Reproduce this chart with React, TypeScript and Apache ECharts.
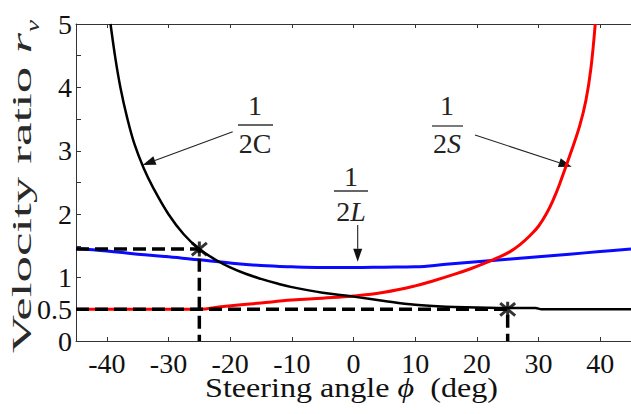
import React, { useEffect, useRef } from 'react';
import * as echarts from 'echarts';

// ---- data ----
const xMin = -45;
const xMax = 45;
const yTickLabels = [0, 0.5, 1, 2, 3, 4, 5];

const curveC: [number, number][] = [
  [-39.4, 5.0], [-38.6, 4.45], [-37.8, 4.0], [-36.7, 3.52], [-35.5, 3.1], [-34, 2.72],
  [-32.5, 2.42], [-30, 2.0], [-27.5, 1.68], [-25, 1.45], [-22.5, 1.29], [-20, 1.16],
  [-17.5, 1.06], [-15, 0.98], [-12.5, 0.91], [-10, 0.85], [-5, 0.76], [0, 0.7], [5, 0.63],
  [10, 0.57], [15, 0.54], [20, 0.53], [25, 0.52], [29.5, 0.52], [30.5, 0.5], [45, 0.5],
];
const curveS: [number, number][] = [
  [-45, 0.5], [-25, 0.5], [-21.5, 0.54], [-15, 0.6], [-10, 0.645], [-5, 0.675], [0, 0.71],
  [5, 0.77], [10, 0.87], [13, 0.95], [16.3, 1.05], [19, 1.14], [21.1, 1.22],
  [23.5, 1.32], [25.4, 1.41], [27, 1.52], [28.6, 1.66], [30, 1.81], [31.3, 2.01], [32.4, 2.23],
  [33.4, 2.47], [35.2, 2.96], [36.7, 3.4], [37.7, 3.8], [38.5, 4.3], [39.2, 5.0],
];
const curveL: [number, number][] = [
  [-45, 1.46], [-40, 1.42], [-35, 1.37], [-30, 1.33], [-25, 1.28], [-20, 1.23], [-15, 1.19],
  [-10, 1.17], [-5, 1.16], [0, 1.16], [5, 1.165], [10, 1.17], [15, 1.21], [20, 1.25],
  [25, 1.29], [30, 1.33], [35, 1.37], [40, 1.41], [45, 1.45],
];
const guideLeft: [number, number][] = [[-45, 1.45], [-25, 1.45], [-25, 0]];
const guideRight: [number, number][] = [[-45, 0.5], [25, 0.5], [25, 0]];
const crossPoints: [number, number][] = [[-25, 1.45], [25, 0.5]];

const FONT = 'Liberation Serif';

function measure(text: string, size: number, style = 'normal') {
  const c = document.createElement('canvas').getContext('2d');
  if (!c) return text.length * size * 0.5;
  c.font = `${style} ${size}px "Liberation Serif", serif`;
  return c.measureText(text).width;
}

function arrow(x1: number, y1: number, x2: number, y2: number): any[] {
  const dx = x2 - x1;
  const dy = y2 - y1;
  const len = Math.sqrt(dx * dx + dy * dy);
  const ux = dx / len;
  const uy = dy / len;
  const hl = 13;
  const hw = 4.5;
  const bx = x2 - ux * hl;
  const by = y2 - uy * hl;
  return [
    { type: 'line', shape: { x1, y1, x2: bx, y2: by }, style: { stroke: '#222', lineWidth: 1.1 } },
    {
      type: 'polygon',
      shape: { points: [[x2, y2], [bx - uy * hw, by + ux * hw], [bx + uy * hw, by - ux * hw]] },
      style: { fill: '#111' },
    },
  ];
}

function fraction(cx: number, yTop: number, yBar: number, yBot: number, x1: number, x2: number, letter: string, italic: boolean): any[] {
  return [
    {
      type: 'text', x: cx, y: yTop,
      style: { text: '1', fontFamily: FONT, fontSize: 28, fill: '#222', align: 'center', verticalAlign: 'middle' },
    },
    { type: 'line', shape: { x1, y1: yBar, x2, y2: yBar }, style: { stroke: '#333', lineWidth: 1.3 } },
    {
      type: 'text', x: cx, y: yBot,
      style: {
        text: `{a|2}{b|${letter}}`, align: 'center', verticalAlign: 'middle',
        rich: {
          a: { fontFamily: FONT, fontSize: 28, fill: '#222' },
          b: { fontFamily: FONT, fontSize: 28, fill: '#222', fontStyle: italic ? 'italic' : 'normal' },
        },
      },
    },
  ];
}

export default function App() {
  const ref = useRef<HTMLDivElement>(null);
  useEffect(() => {
    if (!ref.current) return;
    const chart = echarts.init(ref.current, null, { renderer: 'svg' });

    const xTitleW = measure('Steering angle ', 28) + measure('ϕ', 28, 'italic') + measure('  (deg)', 28);
    const yTitleW = measure('Velocity ratio ', 27) + measure('r', 27, 'italic');

    const axisCommon = {
      type: 'value' as const,
      min: xMin,
      max: xMax,
      splitNumber: 9,
      minInterval: 10,
      maxInterval: 10,
      splitLine: { show: false },
      axisLine: { show: true, onZero: false, lineStyle: { color: '#333', width: 1 } },
      axisTick: { show: true, inside: true, length: 4, lineStyle: { color: '#333' } },
    };

    chart.setOption({
      animation: false,
      backgroundColor: '#fff',
      grid: { left: 76, top: 24, right: -8, bottom: 73 },
      xAxis: [
        {
          ...axisCommon,
          position: 'bottom',
          axisLabel: {
            show: true, margin: 8, fontFamily: FONT, fontSize: 28, color: '#111',
            showMinLabel: false, showMaxLabel: false,
            formatter: (v: number) => (Math.abs(v % 10) < 1e-9 ? String(v) : ''),
          },
        },
        { ...axisCommon, position: 'top', axisLabel: { show: false } },
      ],
      yAxis: {
        type: 'value',
        min: 0,
        max: 5,
        interval: 0.5,
        splitLine: { show: false },
        axisLine: { show: true, onZero: false, lineStyle: { color: '#333', width: 1 } },
        axisTick: { show: true, inside: true, length: 5, lineStyle: { color: '#333' } },
        axisLabel: {
          margin: 4, fontFamily: FONT, fontSize: 28, color: '#111',
          formatter: (v: number) => (yTickLabels.some((t) => Math.abs(t - v) < 1e-9) ? String(v) : ''),
        },
      },
      series: [
        {
          name: '1/2L', type: 'line', data: curveL, showSymbol: false, smooth: 0.4,
          lineStyle: { color: '#0a0aff', width: 3 }, z: 2,
        },
        {
          name: '1/2S', type: 'line', data: curveS, showSymbol: false, smooth: 0.4,
          lineStyle: { color: '#ff0000', width: 3 }, z: 3,
        },
        {
          name: '1/2C', type: 'line', data: curveC, showSymbol: false, smooth: 0.4,
          lineStyle: { color: '#000', width: 2.5 }, z: 4,
        },
        {
          name: 'guideL', type: 'line', data: guideLeft, showSymbol: false,
          lineStyle: { color: '#000', width: 3.5, type: [13, 6] }, z: 5,
        },
        {
          name: 'guideR', type: 'line', data: guideRight, showSymbol: false,
          lineStyle: { color: '#000', width: 3.5, type: [13, 6] }, z: 5,
        },
        {
          name: 'cross', type: 'scatter', data: crossPoints, symbol: 'path://M0,0L10,10M10,0L0,10M5,-1L5,11',
          symbolSize: 15,
          itemStyle: { color: 'none', borderColor: '#000', borderWidth: 3 }, z: 6,
        },
      ],
      graphic: [
        ...fraction(255, 105, 125, 143, 238, 273, 'C', false),
        ...fraction(447, 105, 126, 143, 432, 463, 'S', true),
        ...fraction(351, 176, 191, 211, 334, 368, 'L', true),
        ...arrow(232.7, 131.7, 142.7, 165),
        ...arrow(475, 135, 571.7, 166.7),
        ...arrow(357.7, 225, 357.7, 261.7),
        {
          type: 'text', x: 351.5, y: 388, scaleX: 293 / xTitleW, scaleY: 1,
          style: {
            text: '{a|Steering angle }{b|ϕ}{a|  (deg)}', align: 'center', verticalAlign: 'middle',
            rich: {
              a: { fontFamily: FONT, fontSize: 28, fill: '#111' },
              b: { fontFamily: FONT, fontSize: 28, fill: '#111', fontStyle: 'italic' },
            },
          },
        },
        {
          type: 'text', x: 22, y: 193, rotation: Math.PI / 2, scaleX: 320 / yTitleW, scaleY: 1,
          style: {
            text: '{a|Velocity ratio }{b|r}', align: 'center', verticalAlign: 'middle',
            rich: {
              a: { fontFamily: FONT, fontSize: 27, fill: '#2a2a2a' },
              b: { fontFamily: FONT, fontSize: 27, fill: '#2a2a2a', fontStyle: 'italic' },
            },
          },
        },
        {
          type: 'text', x: 33, y: 26, rotation: Math.PI / 2, scaleX: 1.5, scaleY: 1,
          style: { text: 'v', fontFamily: FONT, fontSize: 18, fontStyle: 'italic', fill: '#2a2a2a', align: 'center', verticalAlign: 'middle' },
        },
      ],
    });
    return () => chart.dispose();
  }, []);
  return (
    <div
      ref={ref}
      style={{ position: 'fixed', left: 0, top: 0, width: 631, height: 414, background: '#fff' }}
    />
  );
}
